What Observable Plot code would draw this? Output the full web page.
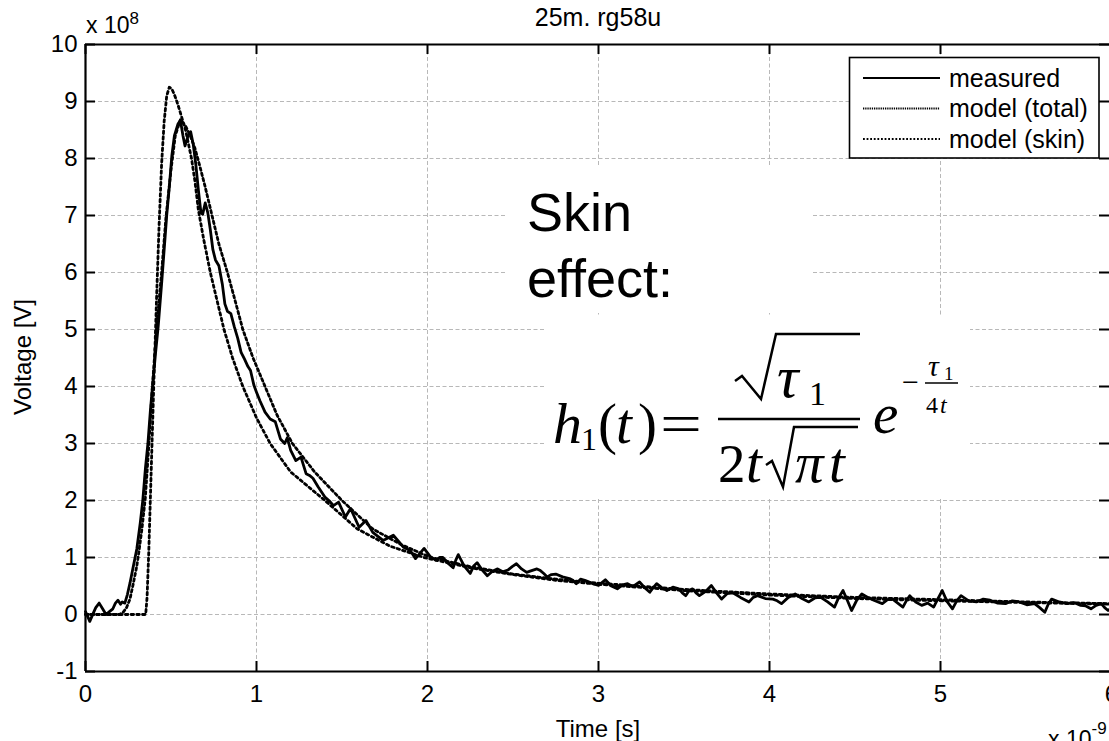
<!DOCTYPE html>
<html><head><meta charset="utf-8">
<script src="https://cdn.jsdelivr.net/npm/d3@7"></script>
<script src="https://cdn.jsdelivr.net/npm/@observablehq/plot@0.6"></script>
<style>
body{margin:0;background:#fff;}
#wrap{position:relative;width:1109px;height:741px;overflow:hidden;background:#fff;}
#wrap svg{display:block;}
</style></head><body><div id="wrap"></div>
<script>
// ---- data (time in 1e-9 s, voltage in 1e8 V) ----
const xTicks = [0, 1, 2, 3, 4, 5, 6];
const yTicks = [-1, 0, 1, 2, 3, 4, 5, 6, 7, 8, 9, 10];
const seriesNames = ["measured", "model (total)", "model (skin)"];
const titleText = "25m. rg58u";
const xLabel = "Time [s]";
const yLabel = "Voltage [V]";

const measuredT = [0.000,0.015,0.025,0.045,0.060,0.080,0.100,0.120,0.140,0.160,0.175,0.190,0.205,0.215,0.230,0.245,0.260,0.280,0.300,0.320,0.335,0.350,0.365,0.380,0.395,0.410,0.425,0.445,0.460,0.475,0.490,0.505,0.520,0.540,0.555,0.570,0.582,0.600,0.615,0.630,0.645,0.660,0.675,0.685,0.700,0.715,0.730,0.745,0.760,0.780,0.800,0.815,0.830,0.850,0.870,0.890,0.910,0.930,0.950,0.965,0.985,1.000,1.020,1.050,1.080,1.110,1.140,1.165,1.180,1.200,1.230,1.260,1.290,1.310,1.330,1.360,1.400,1.430,1.450,1.480,1.520,1.550,1.600,1.640,1.680,1.740,1.800,1.860,1.900,1.930,1.980,2.015,2.050,2.070,2.090,2.120,2.150,2.165,2.180,2.215,2.250,2.270,2.290,2.320,2.350,2.380,2.410,2.440,2.470,2.495,2.520,2.550,2.580,2.600,2.640,2.660,2.680,2.700,2.725,2.750,2.790,2.830,2.850,2.870,2.895,2.920,2.960,3.000,3.020,3.040,3.075,3.110,3.140,3.170,3.200,3.240,3.270,3.300,3.320,3.340,3.370,3.400,3.435,3.470,3.490,3.510,3.530,3.550,3.570,3.590,3.625,3.660,3.690,3.720,3.750,3.780,3.830,3.880,3.905,3.930,3.975,4.020,4.045,4.070,4.110,4.150,4.190,4.230,4.265,4.300,4.340,4.380,4.405,4.430,4.455,4.480,4.510,4.540,4.575,4.610,4.635,4.660,4.690,4.720,4.750,4.780,4.800,4.820,4.855,4.890,4.925,4.960,4.985,5.010,5.040,5.070,5.095,5.120,5.165,5.210,5.250,5.290,5.335,5.380,5.420,5.460,5.505,5.550,5.580,5.610,5.630,5.650,5.695,5.740,5.780,5.820,5.850,5.880,5.910,5.940,5.960,5.980,6.000];
const measuredV = [0.05,-0.05,-0.12,0.02,0.12,0.20,0.10,0.00,0.05,0.10,0.20,0.25,0.18,0.22,0.20,0.35,0.55,0.85,1.15,1.60,2.00,2.55,3.00,3.60,4.10,4.60,5.05,5.80,6.40,7.00,7.50,8.05,8.40,8.60,8.67,8.40,8.22,8.40,8.47,8.25,7.90,7.45,7.05,7.02,7.22,7.05,6.75,6.40,6.22,6.12,5.80,5.45,5.32,5.28,5.05,4.85,4.60,4.48,4.35,4.28,4.02,3.90,3.75,3.55,3.43,3.38,3.08,3.00,3.10,2.88,2.70,2.76,2.47,2.44,2.39,2.24,2.06,1.98,1.91,1.97,1.71,1.86,1.53,1.65,1.44,1.30,1.39,1.18,1.12,0.98,1.16,1.02,0.95,1.00,1.00,0.90,0.82,0.95,1.05,0.85,0.72,0.85,0.91,0.78,0.68,0.76,0.80,0.75,0.78,0.84,0.89,0.80,0.74,0.76,0.80,0.77,0.72,0.66,0.70,0.71,0.66,0.63,0.60,0.54,0.62,0.60,0.55,0.51,0.56,0.61,0.50,0.45,0.52,0.54,0.49,0.57,0.47,0.39,0.47,0.54,0.47,0.42,0.48,0.45,0.38,0.33,0.42,0.45,0.38,0.33,0.40,0.51,0.38,0.27,0.36,0.39,0.30,0.22,0.30,0.33,0.28,0.27,0.24,0.19,0.30,0.36,0.28,0.22,0.29,0.30,0.22,0.13,0.30,0.42,0.25,0.07,0.25,0.36,0.30,0.25,0.22,0.19,0.26,0.27,0.20,0.13,0.24,0.33,0.22,0.16,0.20,0.13,0.28,0.42,0.22,0.10,0.24,0.33,0.24,0.22,0.27,0.25,0.20,0.19,0.24,0.22,0.17,0.19,0.12,0.04,0.18,0.27,0.22,0.19,0.21,0.16,0.15,0.10,0.16,0.19,0.12,0.07,0.12];

const totalT = [0,0.20,0.22,0.24,0.26,0.28,0.30,0.31,0.33,0.35,0.37,0.39,0.415,0.445,0.47,0.50,0.525,0.555,0.585,0.61,0.64,0.67,0.70,0.74,0.78,0.83,0.88,0.92,0.98,1.05,1.12,1.21,1.34,1.50,1.68,1.85,2.02,2.25,2.5,2.75,3.0,3.5,4.0,4.5,5.0,5.5,6.0];
const totalV = [0,0,0.04,0.12,0.27,0.55,0.85,1.05,1.50,2.05,2.95,3.95,5.0,6.0,6.95,7.8,8.4,8.68,8.57,8.42,8.18,7.85,7.5,7.0,6.5,6.0,5.45,5.0,4.5,4.0,3.5,3.0,2.5,2.0,1.5,1.22,1.0,0.84,0.71,0.62,0.55,0.44,0.36,0.30,0.26,0.22,0.19];

const skinT = [0,0.352,0.36,0.37,0.38,0.39,0.40,0.415,0.43,0.445,0.46,0.475,0.49,0.505,0.52,0.54,0.56,0.585,0.62,0.64,0.66,0.69,0.73,0.77,0.81,0.86,0.92,1.0,1.08,1.2,1.4,1.59,1.78,1.98,2.25,2.5,2.75,3.0,3.5,4.0,4.5,5.0,5.5,6.0];
const skinV = [0,0,0.3,1.1,2.1,3.1,4.1,5.5,6.8,7.9,8.65,9.1,9.25,9.22,9.12,8.95,8.75,8.5,8.0,7.6,7.1,6.6,6.0,5.5,5.0,4.5,4.0,3.45,3.0,2.5,2.0,1.5,1.2,1.0,0.82,0.7,0.6,0.53,0.42,0.34,0.28,0.24,0.21,0.18];

const seriesDash = [null, "2.5,3", "2.5,3.2"];
const legendDash = [null, "1.3,0.9", "1.8,1.8"];

const measured = measuredT.map((t, i) => ({t, v: measuredV[i]}));
const total = totalT.map((t, i) => ({t, v: totalV[i]}));
const skin = skinT.map((t, i) => ({t, v: skinV[i]}));

const sans = "'Liberation Sans', Arial, Helvetica, sans-serif";
const serif = "'Liberation Serif', 'Times New Roman', serif";
const gridStyle = {stroke: "#b8b8b8", strokeOpacity: 1, strokeWidth: 1, strokeDasharray: "4,2.5"};
const tickStyle = {stroke: "black", strokeWidth: 2};

const chart = Plot.plot({
  width: 1109, height: 741,
  marginLeft: 85, marginRight: 0, marginTop: 44, marginBottom: 70,
  style: {fontFamily: sans, fontSize: "24px", color: "black", background: "white"},
  x: {domain: [0, 6], range: [85, 1111]},
  y: {domain: [-1, 10]},
  marks: [
    Plot.gridX(xTicks, gridStyle),
    Plot.gridY(yTicks, gridStyle),
    Plot.line(total, {x: "t", y: "v", stroke: "black", strokeWidth: 2.8, strokeDasharray: seriesDash[1]}),
    Plot.line(skin, {x: "t", y: "v", stroke: "black", strokeWidth: 2.8, strokeDasharray: seriesDash[2]}),
    Plot.line(measured, {x: "t", y: "v", stroke: "black", strokeWidth: 2.8, strokeLinejoin: "round"}),
    Plot.ruleY([-1, 10], {stroke: "black", strokeWidth: 2.2}),
    Plot.ruleX([0], {stroke: "black", strokeWidth: 2.2}),
    Plot.ruleX(xTicks, {insetTop: 617, ...tickStyle}),
    Plot.ruleX(xTicks, {insetBottom: 617, ...tickStyle}),
    Plot.ruleY(yTicks, {insetRight: 1014, ...tickStyle}),
    Plot.ruleY(yTicks, {insetLeft: 1014, ...tickStyle}),
    Plot.axisX(xTicks, {tickSize: 0, tickPadding: 13, tickFormat: d => String(d), label: null}),
    Plot.axisY(yTicks, {tickSize: 0, tickPadding: 8, tickFormat: d => String(d), label: null})
  ]
});
const wrap = document.getElementById("wrap");
wrap.appendChild(chart);

// ---- overlay: titles, legend, annotation ----
const ov = d3.select(wrap).append("svg")
  .attr("width", 1109).attr("height", 741)
  .style("position", "absolute").style("left", "0px").style("top", "0px")
  .attr("font-family", sans).attr("fill", "black");

ov.append("text").attr("x", 598).attr("y", 26).attr("text-anchor", "middle").attr("font-size", 25).text(titleText);
ov.append("text").attr("x", 598).attr("y", 737).attr("text-anchor", "middle").attr("font-size", 24).text(xLabel);
ov.append("text").attr("transform", "translate(31,357) rotate(-90)").attr("text-anchor", "middle").attr("font-size", 24).text(yLabel);
// multipliers
const m1 = ov.append("text").attr("x", 86).attr("y", 33).attr("font-size", 23);
m1.append("tspan").text("x 10");
m1.append("tspan").attr("dy", -9).attr("font-size", 17).text("8");
const m2 = ov.append("text").attr("x", 1048).attr("y", 747).attr("font-size", 23);
m2.append("tspan").text("x 10");
m2.append("tspan").attr("dy", -13).attr("font-size", 17).text("-9");

// legend
const lg = ov.append("g");
lg.append("rect").attr("x", 849.5).attr("y", 57.5).attr("width", 249.5).attr("height", 100.5)
  .attr("fill", "white").attr("stroke", "black").attr("stroke-width", 1.6);
seriesNames.forEach((name, i) => {
  const y = 78 + i * 30.5;
  lg.append("line").attr("x1", 863).attr("x2", 940).attr("y1", y).attr("y2", y)
    .attr("stroke", "black").attr("stroke-width", i === 0 ? 2 : 1.8)
    .attr("stroke-dasharray", legendDash[i]);
  lg.append("text").attr("x", 949).attr("y", y + 8.5).attr("font-size", 25).text(name);
});

// annotation boxes
ov.append("rect").attr("x", 505).attr("y", 165).attr("width", 307).attr("height", 148).attr("fill", "white");
ov.append("rect").attr("x", 545).attr("y", 315).attr("width", 425).attr("height", 182).attr("fill", "white");
ov.append("text").attr("x", 527).attr("y", 231).attr("font-size", 54).text("Skin");
ov.append("text").attr("x", 527).attr("y", 297).attr("font-size", 54).text("effect:");

// formula h1(t) = sqrt(tau1) / (2 t sqrt(pi t)) e^{-tau1/4t}
const f = ov.append("g").attr("font-family", serif);
const T = (x, y, s, txt, it) => f.append("text").attr("x", x).attr("y", y).attr("font-size", s)
  .attr("font-style", it ? "italic" : "normal").text(txt);
const P = (d, w) => f.append("path").attr("d", d).attr("fill", "none").attr("stroke", "black")
  .attr("stroke-width", w).attr("stroke-linejoin", "miter");
T(553, 443, 58, "h", true);
T(581, 450, 32, "1", false);
T(598, 443, 57, "(", false);
T(616, 443, 57, "t", true);
T(638, 443, 57, ")", false);
T(660, 443, 57, "=", false).attr("textLength", 42).attr("lengthAdjust", "spacingAndGlyphs");
P("M718,419 L860,419", 2.5);
// numerator
P("M735,381 L742,376 L761,399 L776,334 L860,334", 2.5);
T(777, 397, 60, "\u03C4", true);
T(809, 405, 34, "1", false);
// denominator
T(718, 482, 55, "2", false);
T(746, 482, 57, "t", true);
P("M766,465 L772,461 L783,487 L794,427 L858,427", 2.5);
T(795, 482, 57, "\u03C0", true);
T(829, 482, 57, "t", true);
T(873, 433, 57, "e", true);
// exponent
T(902, 392, 30, "\u2212", false);
T(928, 376, 30, "\u03C4", true);
T(944, 380, 19, "1", false);
P("M925,383 L958,383", 1.6);
T(926, 413, 24, "4", false);
T(940, 413, 24, "t", true);
</script></body></html>
